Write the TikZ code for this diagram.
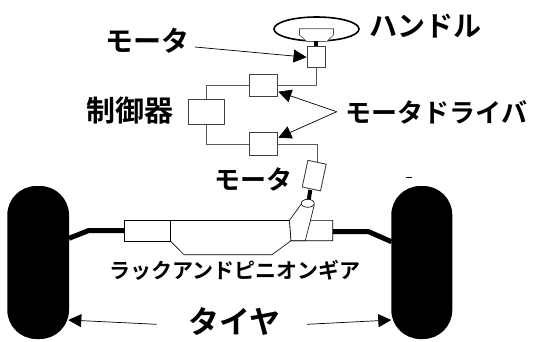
\documentclass[tikz,border=0pt]{standalone}
\usepackage{fontspec}
\usetikzlibrary{arrows.meta,shapes.geometric}
\newfontfamily\cjkb[BoldFont={Noto Sans CJK JP Bold}]{Noto Sans CJK JP}
\tikzset{
 x=1pt,y=-1pt,
 boxed/.style={draw=black!75,line width=0.9pt,fill=white,minimum width=0pt,inner sep=0pt},
 wire/.style={draw=black!65,line width=0.9pt},
 part/.style={draw=black,line width=0.6pt,fill=white},
 tyre/.style={fill=black,rounded corners=29pt},
 rod/.style={draw=black,line width=5pt},
 big/.style={font=\cjkb\bfseries\fontsize{#1}{30}\selectfont,inner sep=0pt,text=black},
 big/.default=26,
 small/.style={font=\cjkb\bfseries\fontsize{21}{24}\selectfont,inner sep=0pt,text=black},
 callout/.style={draw=black,line width=0.7pt,-{Triangle[length=13pt,width=13pt]}},
}
\begin{document}
\begin{tikzpicture}
\useasboundingbox (0,0) rectangle (544,341);
% tyres
\fill[tyre] (7.3,186) rectangle (69,339);
\fill[tyre] (391.3,186) rectangle (452.3,339);
\draw[black,line width=0.8pt] (405.5,177.3) -- (412,177.3);
% tie rods
\coordinate (tl) at (69,238.3); \coordinate (tlb) at (88.3,230.7); \coordinate (rl) at (124.3,230.7);
\coordinate (rr) at (332.7,231.7); \coordinate (trb) at (368.7,231.7); \coordinate (tr) at (391.5,241.7);
\draw[rod] (tl) -- (tlb) -- (rl);
\draw[rod] (rr) -- (trb) -- (tr);
% rack
\draw[part] (124.3,220.3) rectangle (170.7,241.3);
\draw[part] (170.7,220.3) -- (289.5,220.3);
\draw[part] (170.7,241.3) -- (184,254.7) -- (272,254.7) -- (291,240.7);
\draw[part] (289.5,220.3) -- (332.7,220.3) -- (332.7,240.7) -- (291,240.7) -- cycle;
\draw[part] (301.3,204) -- (289.5,220.3) -- (291,240.7) -- (305.3,240.7) -- (314.3,205) -- cycle;
% steering column lower shaft and joint
\draw[black,line width=4pt] (310.3,190) -- (308.7,200);
\node[draw=black,line width=0.6pt,fill=white,ellipse,minimum width=13pt,minimum height=8pt,inner sep=0pt] (joint) at (307.7,203.3) {};
% wheel
\node[draw=black,line width=1.6pt,ellipse,minimum width=85pt,minimum height=24pt,inner sep=0pt] (wheel) at (316.5,29) {};
\draw[part,draw=black!70] (299.5,28.7) -- (333.5,28.7) -- (333.5,35) -- (327,41.3) -- (306.7,41.3) -- (299.5,35) -- cycle;
\fill[black] (314,41) rectangle (318,47);
% boxes
\node[boxed,minimum width=18pt,minimum height=21pt] (motorA) at (316,57.2) {};
\node[boxed,minimum width=28.7pt,minimum height=22pt] (drvA) at (263.3,85.5) {};
\node[boxed,minimum width=36pt,minimum height=25.4pt] (ctrl) at (206.7,112) {};
\node[boxed,minimum width=28.7pt,minimum height=22.3pt] (drvB) at (263.3,144) {};
\node[boxed,minimum width=18.7pt,minimum height=27.3pt,rotate=-12] (motorB) at (314.2,175.6) {};
% wires
\draw[wire] (motorA.south) |- (drvA.east);
\draw[wire] (drvA.west) -| (ctrl.north);
\draw[wire] (ctrl.south) |- (drvB.west);
\draw[wire] (drvB.east) -| (317,162.5);
% labels
\node[big=28,anchor=west] (lh) at (369,26) {ハンドル};
\node[big=28,anchor=west] (lm1) at (105,41) {モータ};
\node[big=29,anchor=west] (lc) at (86,111) {制御器};
\node[big=26,anchor=west] (ld) at (345.5,112) {モータドライバ};
\node[big=26,anchor=west] (lm2) at (214.5,179) {モータ};
\node[small,anchor=west] (lr) at (109,270) {ラックアンドピニオンギア};
\node[big=31,anchor=west] (lt) at (188,322) {タイヤ};
% callouts
\coordinate (c1) at (195,47);
\coordinate (c2) at (336.7,111.7);
\coordinate (c3) at (156.7,324.3);
\coordinate (c4) at (307,324.3);
\draw[callout] (c1) -- (motorA.west);
\draw[callout] (c2) -- (278.3,91.7);
\draw[callout] (c2) -- (278.3,137.7);
\draw[callout] (c3) -- (68.3,320);
\draw[callout] (c4) -- (391.3,320);
\end{tikzpicture}
\end{document}
